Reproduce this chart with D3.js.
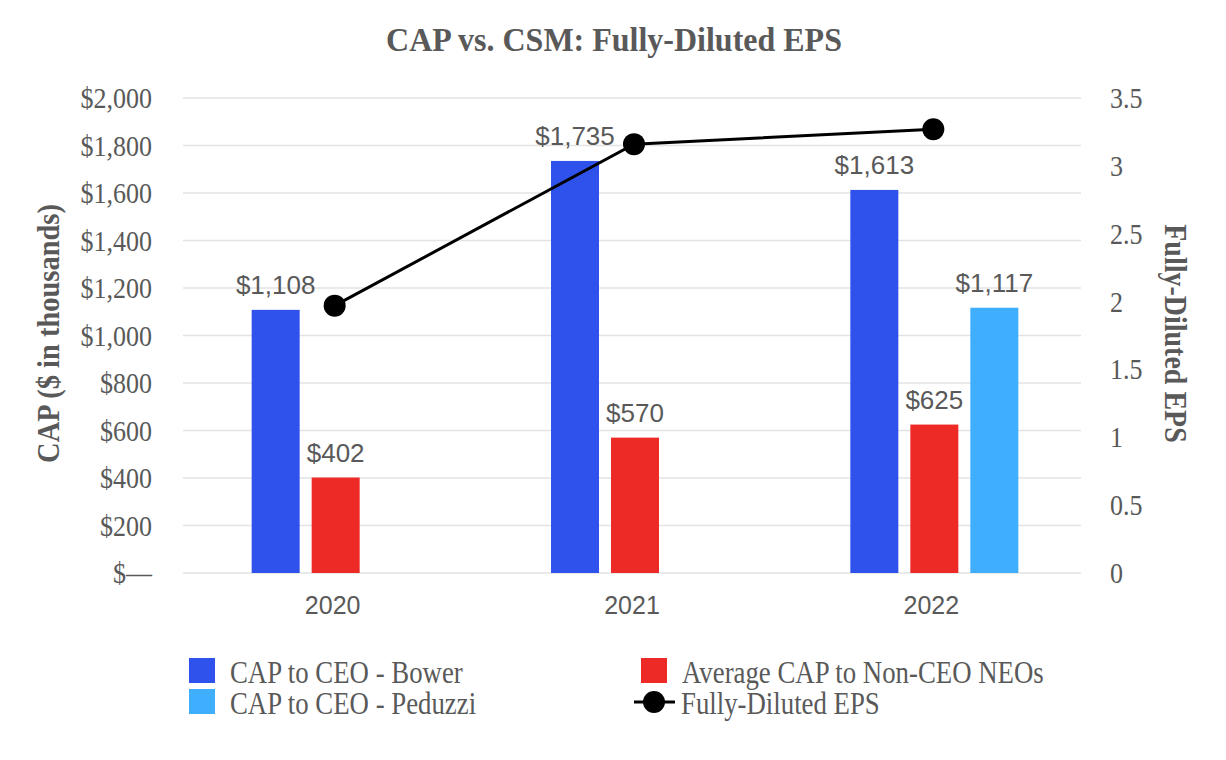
<!DOCTYPE html>
<html><head><meta charset="utf-8">
<script src="https://cdn.jsdelivr.net/npm/d3@7"></script>
<style>body{margin:0;background:#fff}</style>
</head><body>
<svg id="chart" width="1226" height="760"></svg>
<script>
const categories = ["2020", "2021", "2022"];
const bower = [1108, 1735, 1613];
const nonCeo = [402, 570, 625];
const peduzzi = [null, null, 1117];
const eps = [1.97, 3.16, 3.27];
const leftTicks = [0, 200, 400, 600, 800, 1000, 1200, 1400, 1600, 1800, 2000];
const rightTicks = [0, 0.5, 1, 1.5, 2, 2.5, 3, 3.5];

const svg = d3.select("#chart");
const gray = "#595959";
const serif = "'Liberation Serif','Times New Roman',serif";
const sans = "'Liberation Sans',Arial,sans-serif";
const m = {l: 183, r: 1081, t: 98, b: 573};
const stretch = 1.15;

const x = d3.scaleBand().domain(categories).range([m.l, m.r]);
const y = d3.scaleLinear().domain([0, 2000]).range([m.b, m.t]);
const y2 = d3.scaleLinear().domain([0, 3.5]).range([m.b, m.t]);
const slot = 60, bw = 48;

// gridlines
svg.append("g").selectAll("line").data(leftTicks).join("line")
  .attr("x1", m.l).attr("x2", m.r)
  .attr("y1", d => y(d)).attr("y2", d => y(d))
  .attr("stroke", "#e3e3e3").attr("stroke-width", 1.5);

// left axis
const fmt = d => d === 0 ? "$\u2014" : "$" + d3.format(",")(d);
const la = svg.append("g").attr("transform", `translate(152,0)`)
  .call(d3.axisLeft(y).tickValues(leftTicks).tickFormat(fmt).tickSize(0).tickPadding(0));
la.select(".domain").remove();
la.selectAll("text").attr("font-family", serif).attr("font-size", 26).attr("fill", gray)
  .attr("transform", `scale(1,${stretch})`);

// right axis
const ra = svg.append("g").attr("transform", `translate(1110,0)`)
  .call(d3.axisRight(y2).tickValues(rightTicks).tickFormat(d => String(d)).tickSize(0).tickPadding(0));
ra.select(".domain").remove();
ra.selectAll("text").attr("font-family", serif).attr("font-size", 26).attr("fill", gray)
  .attr("transform", `scale(1,${stretch})`);

// x axis labels
const xa = svg.append("g").attr("transform", `translate(0,${m.b + 10})`)
  .call(d3.axisBottom(x).tickSize(0).tickPadding(13));
xa.select(".domain").remove();
xa.selectAll("text").attr("font-family", sans).attr("font-size", 25).attr("fill", gray);

// bars
const series = [
  {vals: bower, color: "#2E52EB", off: -1},
  {vals: nonCeo, color: "#EE2A27", off: 0},
  {vals: peduzzi, color: "#3EAEFD", off: 1}
];
series.forEach(s => {
  const data = categories.map((c, i) => ({c, v: s.vals[i]})).filter(d => d.v != null);
  const cx = d => x(d.c) + x.bandwidth() / 2 + 3 + s.off * slot;
  svg.append("g").selectAll("rect").data(data).join("rect")
    .attr("x", d => cx(d) - bw / 2).attr("width", bw)
    .attr("y", d => y(d.v)).attr("height", d => y(0) - y(d.v))
    .attr("fill", s.color);
  svg.append("g").selectAll("text").data(data).join("text")
    .attr("x", d => cx(d)).attr("y", d => y(d.v) - 16)
    .attr("text-anchor", "middle").attr("font-family", sans).attr("font-size", 26)
    .attr("fill", gray).text(d => "$" + d3.format(",")(d.v));
});

// EPS line
const pts = categories.map((c, i) => [x(c) + x.bandwidth() / 2 + 2, y2(eps[i])]);
svg.append("path").attr("d", d3.line()(pts)).attr("fill", "none")
  .attr("stroke", "#000").attr("stroke-width", 3);
svg.append("g").selectAll("circle").data(pts).join("circle")
  .attr("cx", d => d[0]).attr("cy", d => d[1]).attr("r", 11).attr("fill", "#000");

// title
svg.append("text").attr("transform", "translate(614,51) scale(1,1.05)").attr("text-anchor", "middle")
  .attr("font-family", serif).attr("font-weight", "bold").attr("font-size", 32)
  .attr("fill", gray).text("CAP vs. CSM: Fully-Diluted EPS");

// axis titles
svg.append("text").attr("transform", `translate(59,${(m.t + m.b) / 2 - 2}) rotate(-90) scale(1,1.1)`)
  .attr("text-anchor", "middle").attr("font-family", serif).attr("font-weight", "bold")
  .attr("font-size", 28.5).attr("fill", gray).text("CAP ($ in thousands)");
svg.append("text").attr("transform", `translate(1165,${(m.t + m.b) / 2 - 2}) rotate(90) scale(1,1.1)`)
  .attr("text-anchor", "middle").attr("font-family", serif).attr("font-weight", "bold")
  .attr("font-size", 28).attr("fill", gray).text("Fully-Diluted EPS");

// legend
const legend = [
  {label: "CAP to CEO - Bower", color: "#2E52EB", type: "rect", x: 189, tx: 230, y: 683},
  {label: "Average CAP to Non-CEO NEOs", color: "#EE2A27", type: "rect", x: 641, tx: 682, y: 683},
  {label: "CAP to CEO - Peduzzi", color: "#3EAEFD", type: "rect", x: 189, tx: 230, y: 714},
  {label: "Fully-Diluted EPS", color: "#000", type: "line", x: 641, tx: 681, y: 714}
];
const lg = svg.append("g").selectAll("g").data(legend).join("g");
lg.filter(d => d.type === "rect").append("rect")
  .attr("x", d => d.x).attr("y", d => d.y - 25).attr("width", 26).attr("height", 25).attr("fill", d => d.color);
lg.filter(d => d.type === "line").append("line")
  .attr("x1", d => d.x - 7).attr("x2", d => d.x + 34).attr("y1", d => d.y - 12).attr("y2", d => d.y - 12)
  .attr("stroke", "#000").attr("stroke-width", 3);
lg.filter(d => d.type === "line").append("circle")
  .attr("cx", d => d.x + 13).attr("cy", d => d.y - 12).attr("r", 11).attr("fill", "#000");
lg.append("text").attr("transform", d => `translate(${d.tx},${d.y}) scale(1,${stretch})`)
  .attr("font-family", serif).attr("font-size", 26.8).attr("fill", gray).text(d => d.label);
</script>
</body></html>
